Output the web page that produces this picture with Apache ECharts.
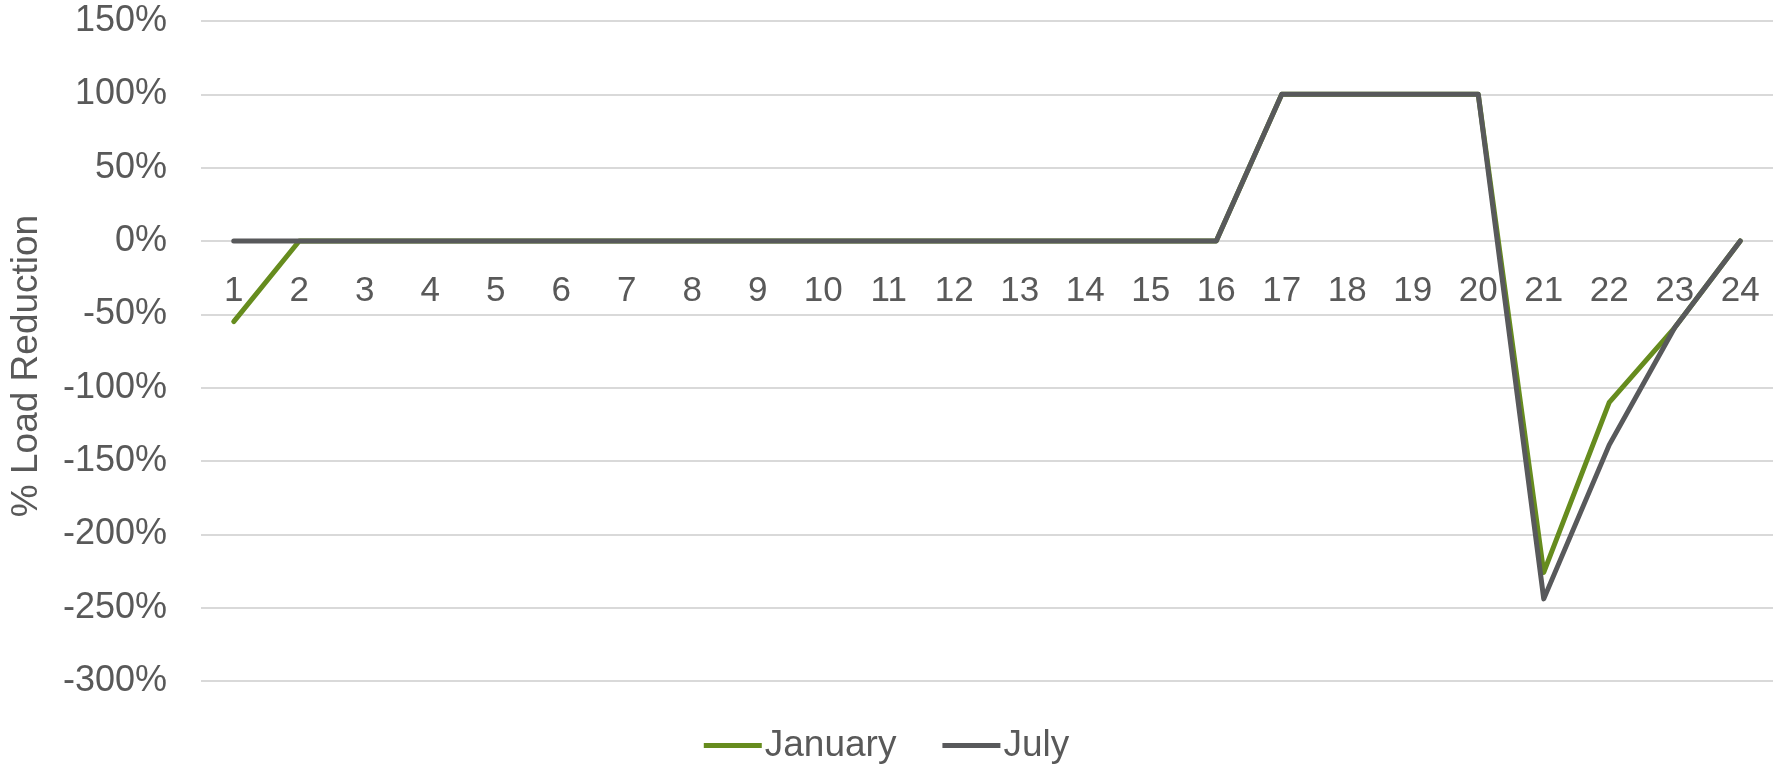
<!DOCTYPE html>
<html>
<head>
<meta charset="utf-8">
<script src="https://cdn.jsdelivr.net/npm/echarts@6/dist/echarts.min.js"></script>
<style>
html,body{margin:0;padding:0;background:#fff;}
#c{width:1773px;height:764px;}
</style>
</head>
<body>
<div id="c"></div>
<script>
const hours = ['1','2','3','4','5','6','7','8','9','10','11','12','13','14','15','16','17','18','19','20','21','22','23','24'];
const january = [-55,0,0,0,0,0,0,0,0,0,0,0,0,0,0,0,100,100,100,100,-226,-110,-59,0];
const july = [0,0,0,0,0,0,0,0,0,0,0,0,0,0,0,0,100,100,100,100,-244,-139,-59,0];
const seriesNames = ['January','July'];
const colors = ['#668c1e','#58595b'];
const yMin = -300, yMax = 150, yStep = 50;

const W = 1773, H = 764;
const gridTop = 21, gridBottom = 83;
const gridH = H - gridTop - gridBottom;
// x axis sits on the 0% line (as in the original)
const zeroOffset = -gridH * (0 - yMin) / (yMax - yMin);

const chart = echarts.init(document.getElementById('c'));
const font = 'Liberation Sans, Arial, sans-serif';
chart.setOption({
  animation: false,
  textStyle: {fontFamily: font},
  grid: {left: 198, right: 0, top: gridTop, bottom: gridBottom, containLabel: false},
  legend: {
    data: seriesNames,
    bottom: -5,
    left: 'center',
    icon: 'rect',
    itemWidth: 58,
    itemHeight: 5,
    itemGap: 46,
    textStyle: {fontSize: 37, color: '#595959', fontFamily: font, padding: [0,0,0,-2]}
  },
  xAxis: {
    type: 'category',
    data: hours,
    boundaryGap: true,
    position: 'bottom',
    offset: zeroOffset,
    axisLine: {show: false, onZero: false},
    axisTick: {show: false},
    axisLabel: {fontSize: 35, color: '#595959', margin: 33, interval: 0},
    splitLine: {show: false}
  },
  yAxis: {
    type: 'value',
    min: yMin,
    max: yMax,
    interval: yStep,
    name: '% Load Reduction',
    nameLocation: 'middle',
    nameGap: 156,
    nameTextStyle: {fontSize: 37, color: '#595959', padding: [0, 30, 0, 0]},
    axisLabel: {fontSize: 36, color: '#595959', margin: 34, formatter: v => v + '%'},
    axisLine: {show: false},
    axisTick: {show: false},
    splitLine: {lineStyle: {color: '#d9d9d9', width: 2}}
  },
  series: [
    {name: seriesNames[0], type: 'line', data: january, symbol: 'none', lineStyle: {color: colors[0], width: 5, cap: 'round', join: 'round'}, itemStyle: {color: colors[0]}},
    {name: seriesNames[1], type: 'line', data: july, symbol: 'none', lineStyle: {color: colors[1], width: 5, cap: 'round', join: 'round'}, itemStyle: {color: colors[1]}}
  ]
});
</script>
</body>
</html>
